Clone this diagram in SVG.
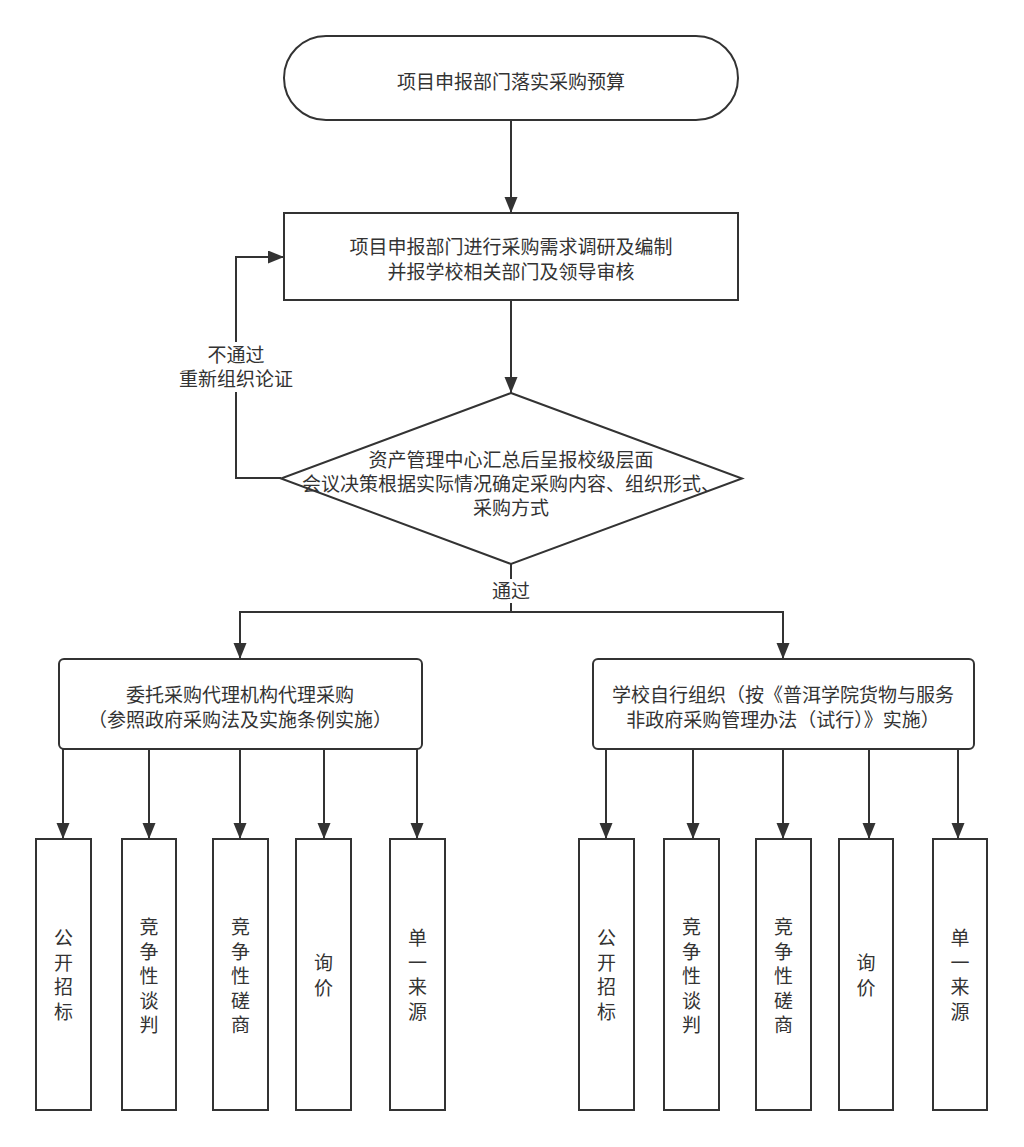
<svg xmlns="http://www.w3.org/2000/svg" width="1024" height="1147" viewBox="0 0 1024 1147">
<style>
.s{fill:#fff;stroke:#333;stroke-width:2}
.c{fill:none;stroke:#333;stroke-width:2}
text{font-family:"Noto Sans CJK SC","Noto Sans",sans-serif;font-size:19px;fill:#333;text-anchor:middle}
.bg{fill:#fff;stroke:none}
</style>
<defs>
<marker id="ah" markerUnits="userSpaceOnUse" markerWidth="16" markerHeight="14" refX="16" refY="6.5" orient="auto">
<path d="M0,0 L16,6.5 L0,13 z" fill="#333"/>
</marker>
</defs>
<rect width="1024" height="1147" fill="#fff"/>
<g id="connectors">
<path class="c" d="M511,120 V213" marker-end="url(#ah)"/>
<path class="c" d="M511,300 V393" marker-end="url(#ah)"/>
<path class="c" d="M281,478 H236 V257 H284" marker-end="url(#ah)"/>
<path class="c" d="M511,564 V612 H240 V659" marker-end="url(#ah)"/>
<path class="c" d="M511,612 H783 V659" marker-end="url(#ah)"/>
<path class="c" d="M63,749 V839" marker-end="url(#ah)"/>
<path class="c" d="M149,749 V839" marker-end="url(#ah)"/>
<path class="c" d="M240,749 V839" marker-end="url(#ah)"/>
<path class="c" d="M324,749 V839" marker-end="url(#ah)"/>
<path class="c" d="M417,749 V839" marker-end="url(#ah)"/>
<path class="c" d="M606,749 V839" marker-end="url(#ah)"/>
<path class="c" d="M693,749 V839" marker-end="url(#ah)"/>
<path class="c" d="M783,749 V839" marker-end="url(#ah)"/>
<path class="c" d="M869,749 V839" marker-end="url(#ah)"/>
<path class="c" d="M958,749 V839" marker-end="url(#ah)"/>
<g id="label-fail">
<rect class="bg" x="178" y="342" width="116" height="50"/>
<text x="236" y="362">不通过</text>
<text x="236" y="386">重新组织论证</text>
</g>
<g id="label-pass">
<rect class="bg" x="490" y="579" width="42" height="24"/>
<text x="511" y="598">通过</text>
</g>
</g>
<g id="start">
<rect class="s" x="284" y="36" width="454" height="84" rx="42" ry="42"/>
<text x="511" y="89">项目申报部门落实采购预算</text>
</g>
<g id="research">
<rect class="s" x="284" y="213" width="454" height="87"/>
<text x="511" y="254">项目申报部门进行采购需求调研及编制</text>
<text x="511" y="279">并报学校相关部门及领导审核</text>
</g>
<g id="decision">
<polygon class="s" points="511,393 742,478.5 511,564 281,478.5"/>
<text x="511" y="467">资产管理中心汇总后呈报校级层面</text>
<text x="511" y="491">会议决策根据实际情况确定采购内容、组织形式、</text>
<text x="511" y="515">采购方式</text>
</g>
<g id="agency">
<rect class="s" x="59" y="659" width="363" height="90" rx="5" ry="5"/>
<text x="240" y="702">委托采购代理机构代理采购</text>
<text x="240" y="727">（参照政府采购法及实施条例实施）</text>
</g>
<g id="self">
<rect class="s" x="593" y="659" width="381" height="90" rx="5" ry="5"/>
<text x="783" y="702">学校自行组织（按《普洱学院货物与服务</text>
<text x="783" y="727">非政府采购管理办法（试行）》实施）</text>
</g>
<g id="l1">
<rect class="s" x="36" y="839" width="55" height="271"/>
<text x="63.5"><tspan x="63.5" y="945">公</tspan><tspan x="63.5" y="969.5">开</tspan><tspan x="63.5" y="994">招</tspan><tspan x="63.5" y="1018.5">标</tspan></text>
</g>
<g id="l2">
<rect class="s" x="122" y="839" width="54" height="271"/>
<text x="149"><tspan x="149" y="934">竞</tspan><tspan x="149" y="958.5">争</tspan><tspan x="149" y="983">性</tspan><tspan x="149" y="1007.5">谈</tspan><tspan x="149" y="1032">判</tspan></text>
</g>
<g id="l3">
<rect class="s" x="213" y="839" width="55" height="271"/>
<text x="240.5"><tspan x="240.5" y="934">竞</tspan><tspan x="240.5" y="958.5">争</tspan><tspan x="240.5" y="983">性</tspan><tspan x="240.5" y="1007.5">磋</tspan><tspan x="240.5" y="1032">商</tspan></text>
</g>
<g id="l4">
<rect class="s" x="296" y="839" width="55" height="271"/>
<text x="323.5"><tspan x="323.5" y="970">询</tspan><tspan x="323.5" y="994.5">价</tspan></text>
</g>
<g id="l5">
<rect class="s" x="390" y="839" width="55" height="271"/>
<text x="417.5"><tspan x="417.5" y="945">单</tspan><tspan x="417.5" y="969.5">一</tspan><tspan x="417.5" y="994">来</tspan><tspan x="417.5" y="1018.5">源</tspan></text>
</g>
<g id="r1">
<rect class="s" x="579" y="839" width="55" height="271"/>
<text x="606.5"><tspan x="606.5" y="945">公</tspan><tspan x="606.5" y="969.5">开</tspan><tspan x="606.5" y="994">招</tspan><tspan x="606.5" y="1018.5">标</tspan></text>
</g>
<g id="r2">
<rect class="s" x="664" y="839" width="55" height="271"/>
<text x="691.5"><tspan x="691.5" y="934">竞</tspan><tspan x="691.5" y="958.5">争</tspan><tspan x="691.5" y="983">性</tspan><tspan x="691.5" y="1007.5">谈</tspan><tspan x="691.5" y="1032">判</tspan></text>
</g>
<g id="r3">
<rect class="s" x="756" y="839" width="55" height="271"/>
<text x="783.5"><tspan x="783.5" y="934">竞</tspan><tspan x="783.5" y="958.5">争</tspan><tspan x="783.5" y="983">性</tspan><tspan x="783.5" y="1007.5">磋</tspan><tspan x="783.5" y="1032">商</tspan></text>
</g>
<g id="r4">
<rect class="s" x="839" y="839" width="54" height="271"/>
<text x="866"><tspan x="866" y="970">询</tspan><tspan x="866" y="994.5">价</tspan></text>
</g>
<g id="r5">
<rect class="s" x="933" y="839" width="54" height="271"/>
<text x="960"><tspan x="960" y="945">单</tspan><tspan x="960" y="969.5">一</tspan><tspan x="960" y="994">来</tspan><tspan x="960" y="1018.5">源</tspan></text>
</g>
</svg>
